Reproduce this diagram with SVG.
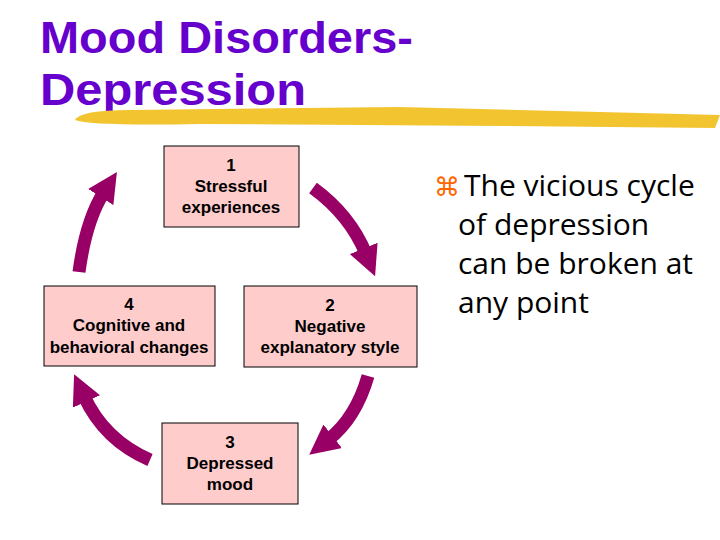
<svg xmlns="http://www.w3.org/2000/svg" width="720" height="540" viewBox="0 0 720 540">
<style>
.t{font-family:"Liberation Sans",Arial,sans-serif;font-weight:bold;font-size:45px;fill:#6600CC}
.box{fill:#FFCCCC;stroke:#000;stroke-width:1}
.bl{font-family:"Liberation Sans",Arial,sans-serif;font-weight:bold;font-size:17px;fill:#000;text-anchor:middle}
.arr{fill:none;stroke:#990066;stroke-width:13;marker-end:url(#h)}
.b{font-family:"Open Sans","Liberation Sans",sans-serif;font-size:30px;fill:#000}
</style>
<defs>
<marker id="h" viewBox="0 0 10 10" refX="2" refY="5" markerWidth="2.3" markerHeight="2.3" orient="auto" markerUnits="strokeWidth">
<path d="M0,0 L10,5 L0,10 Z" fill="#990066"/>
</marker>
</defs>
<rect width="720" height="540" fill="#fff"/>
<text class="t" x="40" y="53" textLength="373" lengthAdjust="spacingAndGlyphs">Mood Disorders-</text>
<text class="t" x="40" y="105" textLength="266" lengthAdjust="spacingAndGlyphs">Depression</text>
<path d="M75,120 Q80,110 130,110 L400,107 L600,112 L720,115 L715,128 L500,126 L200,124 Q90,126 75,120 Z" fill="#F2C530"/>
<g id="connectors">
<path class="arr" d="M79,272 Q86,220 104,192"/>
<path class="arr" d="M313,188 Q350,215 366,254"/>
<path class="arr" d="M368,376 Q356,418 328,440"/>
<path class="arr" d="M150,460 Q104,440 84,396"/>
</g>
<g id="n1"><rect class="box" x="164" y="146" width="135" height="81"/>
<text class="bl" x="231" y="171">1</text><text class="bl" x="231" y="192">Stressful</text><text class="bl" x="231" y="213">experiences</text></g>
<g id="n2"><rect class="box" x="244" y="286" width="173" height="81"/>
<text class="bl" x="330" y="311">2</text><text class="bl" x="330" y="332">Negative</text><text class="bl" x="330" y="353">explanatory style</text></g>
<g id="n3"><rect class="box" x="162" y="423" width="136" height="81"/>
<text class="bl" x="230" y="448">3</text><text class="bl" x="230" y="469">Depressed</text><text class="bl" x="230" y="490">mood</text></g>
<g id="n4"><rect class="box" x="44" y="286" width="171" height="80"/>
<text class="bl" x="129" y="310">4</text><text class="bl" x="129" y="331">Cognitive and</text><text class="bl" x="129" y="353">behavioral changes</text></g>
<g id="bullet">
<text x="434" y="196" font-family="DejaVu Sans,sans-serif" font-size="26" fill="#FF6600">⌘</text>
<text class="b" x="464" y="196">The vicious cycle</text>
<text class="b" x="458" y="235">of depression</text>
<text class="b" x="458" y="274">can be broken at</text>
<text class="b" x="458" y="313">any point</text>
</g>
</svg>
